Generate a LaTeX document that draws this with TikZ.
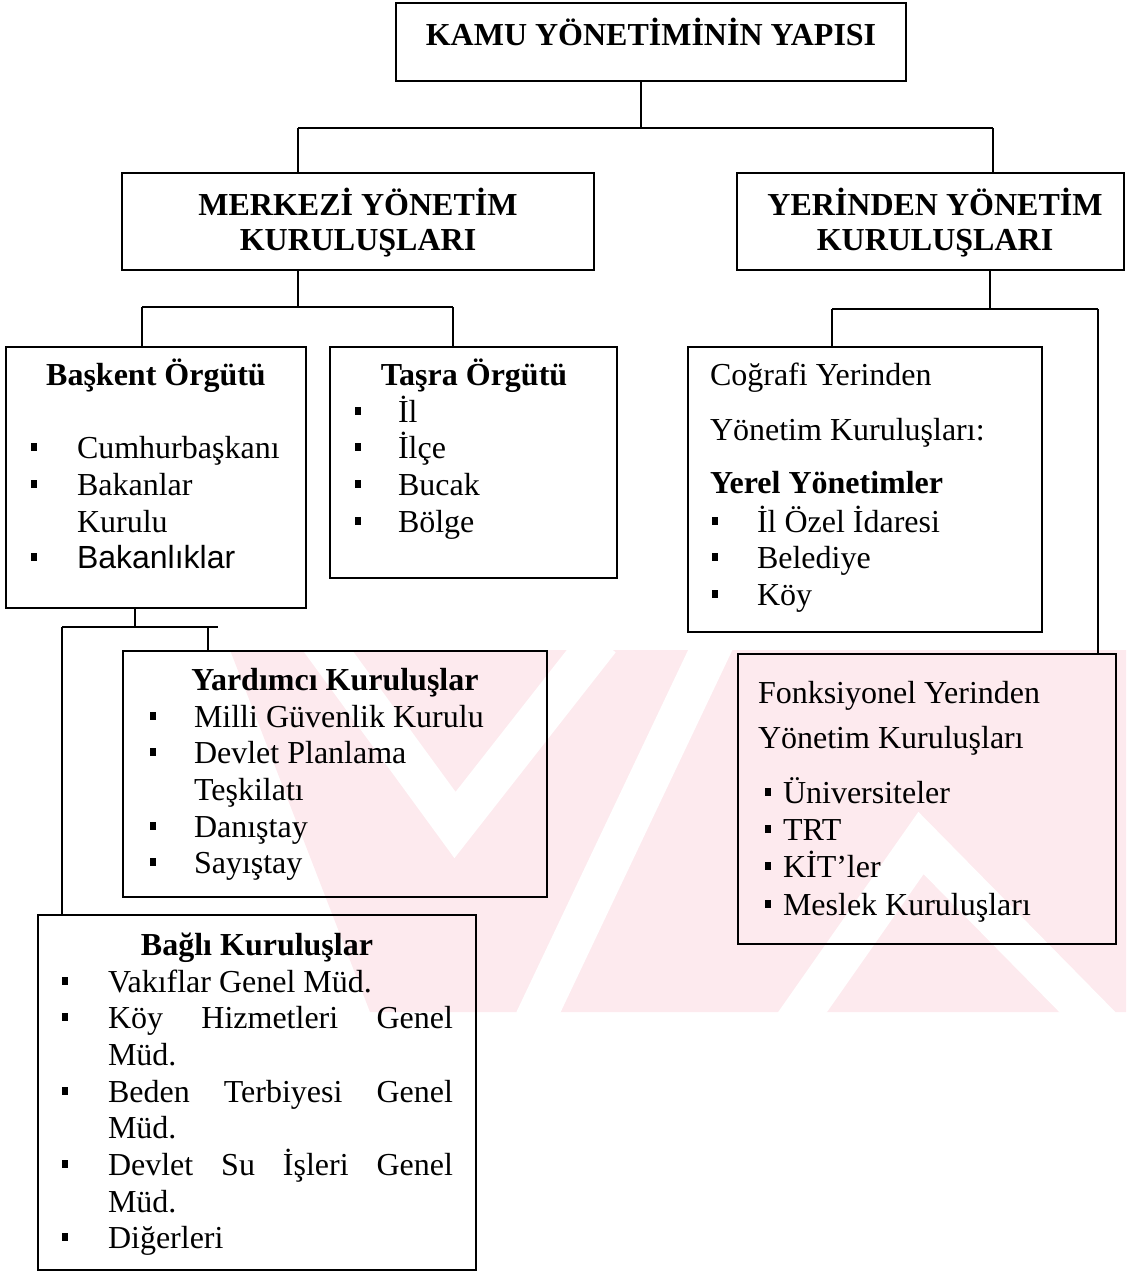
\documentclass[tikz,border=0pt]{standalone}
\usepackage{fontspec}
\setmainfont{Liberation Serif}
\newfontfamily\arialfont{Liberation Sans}
\usetikzlibrary{fit}
\definecolor{wmpink}{RGB}{253,234,238}
\tikzset{
  box/.style={draw=black, line width=1.1pt, inner sep=0pt},
  conn/.style={draw=black, line width=1.1pt},
  txt/.style={inner sep=0pt, outer sep=0pt, font=\fontsize{16}{19}\selectfont, anchor=base west},
  ctxt/.style={txt, anchor=base},
  btxt/.style={txt, font=\fontsize{16}{19}\selectfont\bfseries},
  bctxt/.style={btxt, anchor=base},
  bul/.style={fill=black, draw=none, inner sep=0pt, minimum width=3.4pt, minimum height=3.8pt},
  wmstripe/.style={white, line width=20pt}
}
\begin{document}
\begin{tikzpicture}[x=0.5pt,y=-0.5pt]
\useasboundingbox (0,0) rectangle (1126,1281);
% watermark
\begin{scope}
  \clip (0,650) rectangle (1126,1012);
  \fill[wmpink] (230,650) -- (1126,650) -- (1126,1012) -- (370,1012) -- cycle;
  \draw[wmstripe] (320,640) -- (455,825) -- (600,640);
  \draw[wmstripe] (530,1030) -- (715,640);
  \draw[wmstripe] (790,1030) -- (921,843) -- (1105,1030);
\end{scope}

% boxes
\node[box, fit={(396,3) (906,81)}] (top) {};
\node[box, fit={(122,173) (594,270)}] (merk) {};
\node[box, fit={(737,173) (1124,270)}] (yer) {};
\node[box, fit={(6,347) (306,608)}] (bask) {};
\node[box, fit={(330,347) (617,578)}] (tasra) {};
\node[box, fit={(123,651) (547,897)}] (yard) {};
\node[box, fit={(38,915) (476,1270)}] (bagli) {};
\node[box, fit={(688,347) (1042,632)}] (cog) {};
\node[box, fit={(738,654) (1116,944)}] (fonk) {};

% connectors
\coordinate (j1) at (641,128);
\coordinate (jL) at (298,128);
\coordinate (jR) at (993,128);
\draw[conn] (top.south -| j1) -- (j1);
\draw[conn] (jL) -- (jR);
\draw[conn] (jL) -- (jL |- merk.north);
\draw[conn] (jR) -- (jR |- yer.north);

\coordinate (m1) at (298,307);
\coordinate (mL) at (142,307);
\coordinate (mR) at (453,307);
\draw[conn] (merk.south -| m1) -- (m1);
\draw[conn] (mL) -- (mR);
\draw[conn] (mL) -- (mL |- bask.north);
\draw[conn] (mR) -- (mR |- tasra.north);

\coordinate (k1) at (135,627);
\coordinate (kL) at (62,627);
\coordinate (kR) at (208,627);
\coordinate (kE) at (218,627);
\draw[conn] (bask.south -| k1) -- (k1);
\draw[conn] (kL) -- (kE);
\draw[conn] (kR) -- (kR |- yard.north);
\draw[conn] (kL) -- (kL |- bagli.north);

\coordinate (y1) at (990,309);
\coordinate (yL) at (832,309);
\coordinate (yR) at (1098,309);
\draw[conn] (yer.south -| y1) -- (y1);
\draw[conn] (yL) -- (yR);
\draw[conn] (yL) -- (yL |- cog.north);
\draw[conn] (yR) -- (yR |- fonk.north);

% texts: top levels
\node[bctxt] (tt) at (651,45) {KAMU YÖNETİMİNİN YAPISI};
\node[bctxt] (mt1) at (358,215) {MERKEZİ YÖNETİM};
\node[bctxt] (mt2) at (358,250) {KURULUŞLARI};
\node[bctxt] (yt1) at (935,215) {YERİNDEN YÖNETİM};
\node[bctxt] (yt2) at (935,250) {KURULUŞLARI};

% Baskent
\node[bctxt] (bt) at (156,385) {Başkent Örgütü};
\node[txt] (bi1) at (77,458) {Cumhurbaşkanı};
\node[txt] (bi2) at (77,495) {Bakanlar};
\node[txt] (bi3) at (77,532) {Kurulu};
\node[txt] (bi4) at (77,568) {\arialfont Bakanlıklar};
\node[bul] (bb1) at (34,447) {};
\node[bul] (bb2) at (34,484) {};
\node[bul] (bb3) at (34,557) {};

% Tasra
\node[bctxt] (tt2) at (474,385) {Taşra Örgütü};
\node[txt] (ti1) at (398,422) {İl};
\node[txt] (ti2) at (398,458) {İlçe};
\node[txt] (ti3) at (398,495) {Bucak};
\node[txt] (ti4) at (398,532) {Bölge};
\node[bul] (tb1) at (358,411) {};
\node[bul] (tb2) at (358,447) {};
\node[bul] (tb3) at (358,484) {};
\node[bul] (tb4) at (358,521) {};

% Yardimci
\node[bctxt] (yat) at (335,690) {Yardımcı Kuruluşlar};
\node[txt] (yi1) at (194,727) {Milli Güvenlik Kurulu};
\node[txt] (yi2) at (194,763) {Devlet Planlama};
\node[txt] (yi3) at (194,800) {Teşkilatı};
\node[txt] (yi4) at (194,837) {Danıştay};
\node[txt] (yi5) at (194,873) {Sayıştay};
\node[bul] (yb1) at (153,716) {};
\node[bul] (yb2) at (153,752) {};
\node[bul] (yb3) at (153,826) {};
\node[bul] (yb4) at (153,862) {};

% Bagli
\node[bctxt] (bgt) at (257,955) {Bağlı Kuruluşlar};
\node[txt] (gi1) at (108,992) {Vakıflar Genel Müd.};
\node[txt] (gi2) at (108,1028) {\hbox to 172.5pt{Köy\hfill Hizmetleri\hfill Genel}};
\node[txt] (gi3) at (108,1065) {Müd.};
\node[txt] (gi4) at (108,1102) {\hbox to 172.5pt{Beden\hfill Terbiyesi\hfill Genel}};
\node[txt] (gi5) at (108,1138) {Müd.};
\node[txt] (gi6) at (108,1175) {\hbox to 172.5pt{Devlet\hfill Su\hfill İşleri\hfill Genel}};
\node[txt] (gi7) at (108,1212) {Müd.};
\node[txt] (gi8) at (108,1248) {Diğerleri};
\node[bul] (gb1) at (65,981) {};
\node[bul] (gb2) at (65,1017) {};
\node[bul] (gb3) at (65,1091) {};
\node[bul] (gb4) at (65,1164) {};
\node[bul] (gb5) at (65,1237) {};

% Cografi
\node[txt] (c1) at (710,385) {Coğrafi Yerinden};
\node[txt] (c2) at (710,440) {Yönetim Kuruluşları:};
\node[btxt] (c3) at (710,493) {Yerel Yönetimler};
\node[txt] (ci1) at (757,532) {İl Özel İdaresi};
\node[txt] (ci2) at (757,568) {Belediye};
\node[txt] (ci3) at (757,605) {Köy};
\node[bul] (cb1) at (715,521) {};
\node[bul] (cb2) at (715,557) {};
\node[bul] (cb3) at (715,594) {};

% Fonksiyonel
\node[txt] (f1) at (758,703) {Fonksiyonel Yerinden};
\node[txt] (f2) at (758,748) {Yönetim Kuruluşları};
\node[txt] (fi1) at (783,803) {Üniversiteler};
\node[txt] (fi2) at (783,840) {TRT};
\node[txt] (fi3) at (783,877) {KİT’ler};
\node[txt] (fi4) at (783,915) {Meslek Kuruluşları};
\node[bul] (fb1) at (768,792) {};
\node[bul] (fb2) at (768,829) {};
\node[bul] (fb3) at (768,866) {};
\node[bul] (fb4) at (768,904) {};
\end{tikzpicture}
\end{document}
